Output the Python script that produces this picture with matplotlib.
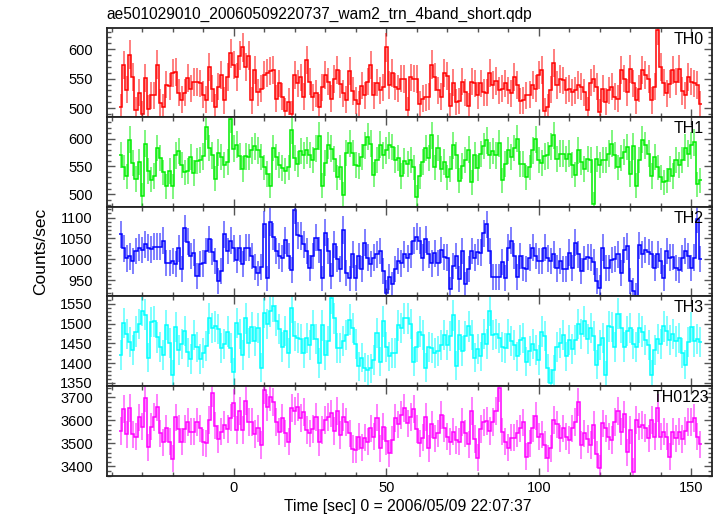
import numpy as np
import matplotlib
matplotlib.use('Agg')
import matplotlib.pyplot as plt
from matplotlib.ticker import MultipleLocator

plt.rcParams['font.family'] = ['Liberation Sans', 'DejaVu Sans']

# bin centres, 1 s bins
time = np.arange(-37, 154)

th0 = [501, 573, 531, 591, 553, 497, 526, 489, 551, 499, 522, 522, 574, 509, 502, 540, 537, 559, 561, 526,
       514, 526, 551, 533, 544, 544, 542, 523, 514, 569, 533, 502, 536, 556, 513, 553, 593, 573, 553, 589,
       603, 570, 589, 513, 565, 527, 533, 556, 559, 563, 565, 516, 542, 519, 495, 511, 490, 556, 542, 552,
       519, 582, 545,
       518, 525, 501, 535, 556, 545, 516, 549, 565, 541, 525, 514, 563, 529, 513, 507, 538, 522, 545, 573,
       522, 543, 530, 535, 603, 539, 559, 536, 533, 550, 549, 497, 552, 550, 549, 507, 516, 518, 519, 574,
       553, 530, 519, 559, 554, 503, 543, 510, 512, 545, 527, 503, 545, 542, 522, 542, 527, 526, 560, 539,
       546, 530, 533, 542, 530, 525, 553, 539, 512, 513,
       522, 523, 539, 533, 556, 565, 495, 501, 531, 576, 539, 549, 547, 530, 533, 527, 530, 539, 536, 527,
       496, 543, 550, 536, 493, 533, 511, 530, 536, 519, 516, 565, 550, 527, 567, 542, 513, 533, 565, 556,
       549, 513, 536, 633, 569, 543, 525, 541, 565, 545, 567, 529, 522, 553, 545, 542, 539, 507]

th1 = [571, 548, 532, 598, 556, 527, 558, 497, 591, 541, 526, 533, 583, 565, 539, 514, 542, 514, 570, 578,
       552, 539, 542, 567, 538, 559, 562, 568, 622, 583, 570, 528, 575, 567, 552, 558, 635, 582, 589, 568,
       545, 568, 567, 579, 586, 579, 567, 548, 536, 515, 583, 567, 552, 547, 541, 548, 615, 565, 555, 578,
       570, 579, 571,
       561, 582, 605, 515, 556, 588, 582, 564, 530, 548, 499, 574, 592, 574, 552, 550, 567, 588, 604, 591,
       535, 561, 589, 570, 579, 588, 585, 561, 565, 533, 559, 555, 562, 548, 494, 532, 558, 583, 565, 606,
       548, 583, 545, 558, 530, 545, 588, 570, 524, 550, 561, 580, 521, 570, 547, 572, 587, 597, 570, 578,
       570, 592, 525, 555, 579, 567, 583, 600, 555, 555,
       530, 548, 579, 599, 561, 556, 568, 570, 586, 606, 564, 573, 573, 564, 573, 552, 535, 579, 558, 545,
       564, 562, 482, 564, 552, 561, 561, 573, 591, 570, 548, 565, 576, 585, 536, 586, 515, 561, 598, 588,
       573, 533, 567, 548, 530, 521, 524, 545, 533, 561, 552, 561, 584, 573, 588, 594, 518, 525]

th2 = [1060, 1026, 1002, 1007, 996, 1020, 1028, 1022, 1036, 1028, 1024, 1030, 1030, 1030, 1044, 992, 992, 996,
       988, 1026, 976, 1074, 1042, 1008, 1016, 960, 988, 990, 1020, 1048, 1018, 996, 948, 972, 1060, 1020,
       1044, 1026, 998, 1026, 988, 1028, 1028, 1008, 982, 966, 982, 1084, 954, 1090, 1054, 1020, 1008, 1002,
       1046, 1008, 974, 1118, 1058, 1056, 1036, 1020, 980,
       1008, 1052, 1022, 954, 1064, 1020, 960, 1036, 1000, 976, 1070, 968, 954, 1012, 956, 1008, 976, 1040,
       1004, 988, 1004, 1012, 1020, 972, 920, 958, 940, 976, 996, 990, 1012, 1002, 1012, 1044, 1054, 1044,
       1004, 1048, 1012, 990, 1014, 992, 1022, 1006, 1004, 928, 984, 1008, 952, 1020, 940, 976, 1020, 1004,
       1018, 1016, 1062, 1084, 1020, 958, 958, 958, 994, 956, 1028, 1044, 1008, 958, 1008, 980,
       976, 1004, 1028, 1008, 996, 996, 1028, 1002, 996, 1012, 978, 996, 976, 976, 1016, 980, 1040, 1012,
       972, 1000, 1006, 1004, 994, 948, 932, 1028, 980, 980, 998, 1000, 1012, 968, 1022, 1031, 948, 924,
       912, 1034, 1012, 1022, 1018, 1012, 980, 1012, 996, 956, 1020, 1004, 1006, 980, 974, 1002, 1020, 1008,
       980, 1004, 1096, 1000]

th3 = [1420, 1502, 1474, 1453, 1434, 1480, 1499, 1533, 1523, 1414, 1504, 1506, 1465, 1442, 1420, 1497, 1451,
       1370, 1491, 1434, 1448, 1482, 1427, 1411, 1472, 1442, 1411, 1425, 1444, 1514, 1489, 1493, 1487, 1438,
       1448, 1480, 1438, 1377, 1502, 1474, 1421, 1514, 1451, 1491, 1457, 1489, 1389, 1527, 1499, 1531, 1544,
       1508, 1487, 1440, 1482, 1425, 1540, 1468, 1464, 1462, 1425, 1464, 1447,
       1497, 1462, 1400, 1496, 1421, 1457, 1564, 1514, 1438, 1438, 1457, 1472, 1510, 1489, 1448, 1392, 1414,
       1389, 1383, 1387, 1408, 1476, 1404, 1506, 1442, 1417, 1425, 1425, 1496, 1489, 1514, 1514, 1499, 1404,
       1442, 1480, 1472, 1389, 1442, 1438, 1425, 1430, 1447, 1472, 1447, 1468, 1521, 1394, 1472, 1430, 1468,
       1493, 1472, 1414, 1436, 1417, 1474, 1448, 1533, 1472, 1474, 1464, 1442, 1438, 1474, 1457, 1447, 1417,
       1459, 1464,
       1404, 1430, 1448, 1434, 1408, 1480, 1468, 1387, 1349, 1383, 1442, 1451, 1472, 1417, 1459, 1436, 1459,
       1499, 1474, 1506, 1462, 1489, 1468, 1396, 1447, 1464, 1369, 1493, 1491, 1442, 1525, 1489, 1442, 1482,
       1489, 1448, 1440, 1489, 1480, 1459, 1445, 1370, 1434, 1462, 1448, 1493, 1482, 1459, 1474, 1455, 1464,
       1425, 1396, 1453, 1491, 1455, 1462, 1453]

th0123 = [3554, 3649, 3539, 3652, 3539, 3529, 3613, 3573, 3698, 3483, 3573, 3616, 3656, 3544, 3505, 3565, 3508,
          3433, 3613, 3562, 3508, 3562, 3594, 3551, 3551, 3594, 3565, 3505, 3500, 3601, 3717, 3577, 3519, 3551,
          3580, 3562, 3612, 3674, 3558, 3640, 3558, 3684, 3594, 3594, 3541, 3565, 3493, 3731, 3656, 3702, 3681,
          3594, 3551, 3609, 3544, 3508, 3652, 3640, 3659, 3609, 3638, 3558, 3544,
          3562, 3616, 3505, 3558, 3601, 3616, 3630, 3554, 3640, 3537, 3616, 3594, 3544, 3476, 3472, 3529, 3482,
          3525, 3508, 3565, 3529, 3612, 3479, 3573, 3511, 3457, 3515, 3609, 3583, 3623, 3652, 3587, 3616, 3649,
          3562, 3500, 3525, 3616, 3479, 3583, 3522, 3544, 3623, 3565, 3529, 3508, 3551, 3515, 3508, 3594, 3544,
          3496, 3640, 3519, 3438, 3562, 3591, 3597, 3554, 3594, 3640, 3739, 3551, 3508, 3482, 3525, 3525, 3544,
          3565, 3591,
          3443, 3500, 3565, 3620, 3529, 3539, 3493, 3436, 3479, 3601, 3583, 3522, 3565, 3529, 3515, 3565, 3594,
          3678, 3493, 3544, 3519, 3493, 3580, 3453, 3392, 3587, 3565, 3529, 3515, 3594, 3640, 3551, 3626, 3461,
          3558, 3378, 3601, 3573, 3580, 3568, 3522, 3601, 3529, 3655, 3529, 3551, 3529, 3443, 3551, 3522, 3551,
          3519, 3554, 3594, 3594, 3609, 3529, 3496]

names = ['TH0', 'TH1', 'TH2', 'TH3', 'TH0123']
series = [th0, th1, th2, th3, th0123]
colors = ['#ff0000', '#00ee00', '#0000ff', '#00ffff', '#ff00ff']
ylims = [(484.5, 637), (477, 639), (911, 1126), (1342, 1569), (3360, 3749)]
majors = [50, 50, 50, 50, 100]
minors = [10, 10, 10, 10, 20]

fig, axes = plt.subplots(5, 1, figsize=(7.17, 5.16), dpi=100, sharex=True)
fig.subplots_adjust(left=0.1488, right=0.993, top=0.9467, bottom=0.0781, hspace=0)

edges = np.append(time - 0.5, time[-1] + 0.5)
for i, ax in enumerate(axes):
    y = np.array(series[i], float)
    err = np.sqrt(y)  # 1 s bins: poisson error on the rate
    ax.vlines(time, y - err, y + err, color=colors[i], lw=1.4, alpha=0.5)
    ax.stairs(y, edges, baseline=None, color=colors[i], lw=1.1)
    ax.set_ylim(*ylims[i])
    ax.yaxis.set_major_locator(MultipleLocator(majors[i]))
    ax.yaxis.set_minor_locator(MultipleLocator(minors[i]))
    ax.xaxis.set_major_locator(MultipleLocator(50))
    ax.xaxis.set_minor_locator(MultipleLocator(10))
    ax.tick_params(which='both', direction='in', top=True, right=True, color='#555555',
                   labelsize=10.5, pad=10)
    ax.tick_params(which='major', length=6, width=1)
    ax.tick_params(which='minor', length=3, width=1)
    for s in ax.spines.values():
        s.set_linewidth(1.3)
        s.set_color('#222222')
    xr = 0.995 if names[i] == 'TH0123' else 0.986
    ax.text(xr, 0.955, names[i], transform=ax.transAxes, ha='right', va='top', fontsize=11.5)

axes[-1].set_xlim(-41.6, 156.8)
axes[-1].tick_params(axis='x', pad=4)

fig.text(0.149, 1 - 19 / 516, 'ae501029010_20060509220737_wam2_trn_4band_short.qdp',
         ha='left', va='baseline', fontsize=11.2)
fig.text(0.057, 0.512, 'Counts/sec', rotation=90, ha='center', va='center', fontsize=12.5)
fig.text(0.568, 1 - 507 / 516, 'Time [sec] 0 = 2006/05/09 22:07:37', ha='center', va='center', fontsize=11.3)

fig.savefig('out.png', dpi=100)
